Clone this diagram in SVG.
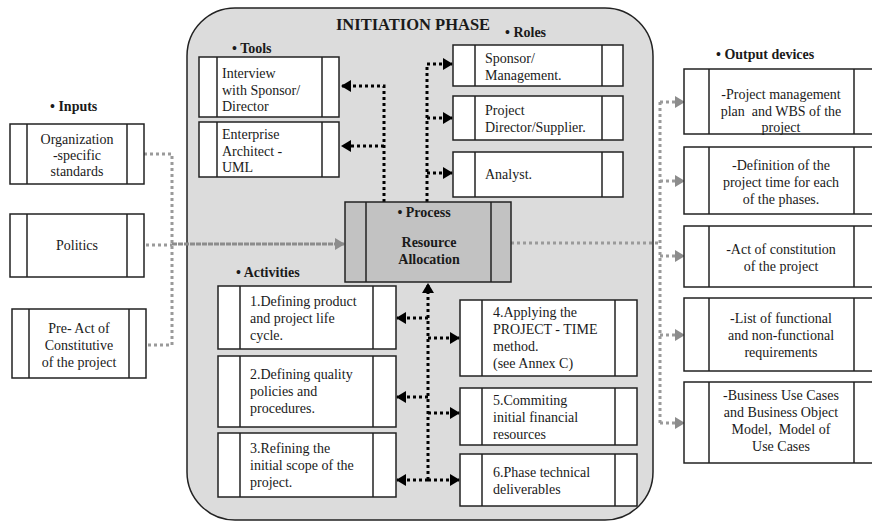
<svg xmlns="http://www.w3.org/2000/svg" width="872" height="522" viewBox="0 0 872 522" font-family="'Liberation Serif', 'DejaVu Serif', serif">
  <defs>
    <marker id="ahB" markerUnits="userSpaceOnUse" markerWidth="10" markerHeight="12" refX="9" refY="6" orient="auto">
      <path d="M0,0 L10,6 L0,12 Z" fill="#000"/>
    </marker>
    <marker id="ahG" markerUnits="userSpaceOnUse" markerWidth="10" markerHeight="12" refX="9" refY="6" orient="auto">
      <path d="M0,0 L10,6 L0,12 Z" fill="#8c8c8c"/>
    </marker>
  </defs>
  <style>
    text { font-family: 'Liberation Serif', 'DejaVu Serif', serif; font-size: 14px; fill: #1a1a1a; }
    .h { font-weight: bold; font-size: 14px; }
    .title { font-weight: bold; font-size: 16.5px; }
    .c { text-anchor: middle; }
    .box { fill: #fff; stroke: #222; stroke-width: 1.5; }
    .sep { stroke: #222; stroke-width: 1.5; }
    .proc { fill: #c2c2c2; stroke: #222; stroke-width: 1.5; }
    .dk { fill: none; stroke: #000; stroke-width: 3; stroke-dasharray: 3 3; }
    .gr { fill: none; stroke: #9a9a9a; stroke-width: 3; stroke-dasharray: 3 3; }
  </style>

  <rect width="872" height="522" fill="#fff"/>

  <!-- phase container -->
  <g id="phase">
    <rect x="187" y="8" width="466" height="512" rx="48" ry="48" fill="#dcdcdc" stroke="#222" stroke-width="1.5"/>
    <text class="title c" x="413" y="30">INITIATION PHASE</text>
  </g>

  <!-- section headings -->
  <g id="headings">
    <text class="h" x="50" y="111">• Inputs</text>
    <text class="h" x="232" y="53">• Tools</text>
    <text class="h" x="505" y="37">• Roles</text>
    <text class="h" x="236" y="277">• Activities</text>
    <text class="h" x="716" y="59">• Output devices</text>
  </g>

  <!-- connectors -->
  <g id="connectors">
    <!-- inputs to process -->
    <path class="gr" d="M144,154 H172 V345 H146"/>
    <path class="gr" d="M146,245 H172"/>
    <path d="M172,244 H344" fill="none" stroke="#8c8c8c" stroke-width="3" stroke-dasharray="5 1" marker-end="url(#ahG)"/>

    <!-- process to tools -->
    <path class="dk" d="M384,202 V86 H342" marker-end="url(#ahB)"/>
    <path class="dk" d="M384,146 H342" marker-end="url(#ahB)"/>

    <!-- process to roles -->
    <path class="dk" d="M427,202 V64 H452" marker-end="url(#ahB)"/>
    <path class="dk" d="M427,118 H452" marker-end="url(#ahB)"/>
    <path class="dk" d="M427,173 H452" marker-end="url(#ahB)"/>

    <!-- activities to process -->
    <path class="dk" d="M428,480 V284" marker-end="url(#ahB)"/>
    <path class="dk" d="M428,318 H397" marker-end="url(#ahB)"/>
    <path class="dk" d="M428,338 H459" marker-end="url(#ahB)"/>
    <path class="dk" d="M428,397 H397" marker-end="url(#ahB)"/>
    <path class="dk" d="M428,413 H459" marker-end="url(#ahB)"/>
    <path class="dk" d="M428,480 H397" marker-end="url(#ahB)"/>
    <path class="dk" d="M428,480 H459" marker-end="url(#ahB)"/>

    <!-- process to outputs -->
    <path class="gr" d="M511,243 H660"/>
    <path class="gr" d="M660,102 V423"/>
    <path class="gr" d="M660,102 H684" marker-end="url(#ahG)"/>
    <path class="gr" d="M660,181 H684" marker-end="url(#ahG)"/>
    <path class="gr" d="M660,256 H684" marker-end="url(#ahG)"/>
    <path class="gr" d="M660,335 H684" marker-end="url(#ahG)"/>
    <path class="gr" d="M660,423 H684" marker-end="url(#ahG)"/>
  </g>

  <!-- inputs -->
  <g id="in-standards">
    <rect class="box" x="10" y="124" width="134" height="60"/>
    <line class="sep" x1="27" y1="124" x2="27" y2="184"/>
    <line class="sep" x1="127" y1="124" x2="127" y2="184"/>
    <text class="c" x="77" y="144">Organization</text>
    <text class="c" x="77" y="160">-specific</text>
    <text class="c" x="77" y="176">standards</text>
  </g>
  <g id="in-politics">
    <rect class="box" x="10" y="214" width="134" height="63"/>
    <line class="sep" x1="27" y1="214" x2="27" y2="277"/>
    <line class="sep" x1="127" y1="214" x2="127" y2="277"/>
    <text class="c" x="77" y="250">Politics</text>
  </g>
  <g id="in-preact">
    <rect class="box" x="12" y="309" width="134" height="69"/>
    <line class="sep" x1="29" y1="309" x2="29" y2="378"/>
    <line class="sep" x1="129" y1="309" x2="129" y2="378"/>
    <text class="c" x="79" y="333">Pre- Act of</text>
    <text class="c" x="79" y="350">Constitutive</text>
    <text class="c" x="79" y="367">of the project</text>
  </g>

  <!-- tools -->
  <g id="tool-interview">
    <rect class="box" x="199" y="57" width="140" height="60"/>
    <line class="sep" x1="217" y1="57" x2="217" y2="117"/>
    <line class="sep" x1="322" y1="57" x2="322" y2="117"/>
    <text x="222" y="78">Interview</text>
    <text x="222" y="95">with Sponsor/</text>
    <text x="222" y="111">Director</text>
  </g>
  <g id="tool-ea">
    <rect class="box" x="199" y="122" width="140" height="55"/>
    <line class="sep" x1="217" y1="122" x2="217" y2="177"/>
    <line class="sep" x1="322" y1="122" x2="322" y2="177"/>
    <text x="222" y="139">Enterprise</text>
    <text x="222" y="156">Architect -</text>
    <text x="222" y="172">UML</text>
  </g>

  <!-- roles -->
  <g id="role-sponsor">
    <rect class="box" x="453" y="45" width="170" height="41"/>
    <line class="sep" x1="475" y1="45" x2="475" y2="86"/>
    <line class="sep" x1="602" y1="45" x2="602" y2="86"/>
    <text x="485" y="63">Sponsor/</text>
    <text x="485" y="80">Management.</text>
  </g>
  <g id="role-director">
    <rect class="box" x="453" y="96" width="170" height="44"/>
    <line class="sep" x1="475" y1="96" x2="475" y2="140"/>
    <line class="sep" x1="602" y1="96" x2="602" y2="140"/>
    <text x="485" y="115">Project</text>
    <text x="485" y="132">Director/Supplier.</text>
  </g>
  <g id="role-analyst">
    <rect class="box" x="453" y="152" width="170" height="45"/>
    <line class="sep" x1="475" y1="152" x2="475" y2="197"/>
    <line class="sep" x1="602" y1="152" x2="602" y2="197"/>
    <text x="485" y="179">Analyst.</text>
  </g>

  <!-- process -->
  <g id="process">
    <rect class="proc" x="345" y="202" width="166" height="80"/>
    <line class="sep" x1="366" y1="202" x2="366" y2="282"/>
    <line class="sep" x1="491" y1="202" x2="491" y2="282"/>
    <text class="h c" x="424" y="217">• Process</text>
    <text class="h c" x="429" y="247">Resource</text>
    <text class="h c" x="429" y="264">Allocation</text>
  </g>

  <!-- activities -->
  <g id="act-1">
    <rect class="box" x="218" y="286" width="178" height="63"/>
    <line class="sep" x1="240" y1="286" x2="240" y2="349"/>
    <line class="sep" x1="373" y1="286" x2="373" y2="349"/>
    <text x="250" y="306">1.Defining product</text>
    <text x="250" y="323">and project life</text>
    <text x="250" y="340">cycle.</text>
  </g>
  <g id="act-2">
    <rect class="box" x="218" y="356" width="178" height="71"/>
    <line class="sep" x1="240" y1="356" x2="240" y2="427"/>
    <line class="sep" x1="373" y1="356" x2="373" y2="427"/>
    <text x="250" y="379">2.Defining quality</text>
    <text x="250" y="396">policies and</text>
    <text x="250" y="413">procedures.</text>
  </g>
  <g id="act-3">
    <rect class="box" x="218" y="433" width="178" height="64"/>
    <line class="sep" x1="240" y1="433" x2="240" y2="497"/>
    <line class="sep" x1="373" y1="433" x2="373" y2="497"/>
    <text x="250" y="453">3.Refining the</text>
    <text x="250" y="470">initial scope of the</text>
    <text x="250" y="487">project.</text>
  </g>
  <g id="act-4">
    <rect class="box" x="460" y="300" width="177" height="76"/>
    <line class="sep" x1="482" y1="300" x2="482" y2="376"/>
    <line class="sep" x1="615" y1="300" x2="615" y2="376"/>
    <text x="493" y="317">4.Applying the</text>
    <text x="493" y="334">PROJECT - TIME</text>
    <text x="493" y="351">method.</text>
    <text x="493" y="368">(see Annex C)</text>
  </g>
  <g id="act-5">
    <rect class="box" x="460" y="388" width="177" height="57"/>
    <line class="sep" x1="482" y1="388" x2="482" y2="445"/>
    <line class="sep" x1="615" y1="388" x2="615" y2="445"/>
    <text x="493" y="405">5.Commiting</text>
    <text x="493" y="422">initial financial</text>
    <text x="493" y="439">resources</text>
  </g>
  <g id="act-6">
    <rect class="box" x="460" y="454" width="177" height="52"/>
    <line class="sep" x1="482" y1="454" x2="482" y2="506"/>
    <line class="sep" x1="615" y1="454" x2="615" y2="506"/>
    <text x="493" y="477">6.Phase technical</text>
    <text x="493" y="494">deliverables</text>
  </g>

  <!-- outputs -->
  <g id="out-plan">
    <rect class="box" x="684" y="69" width="190" height="65"/>
    <line class="sep" x1="709" y1="69" x2="709" y2="134"/>
    <line class="sep" x1="854" y1="69" x2="854" y2="134"/>
    <text class="c" x="781" y="99">-Project management</text>
    <text class="c" x="781" y="116">plan &#160;and WBS of the</text>
    <text class="c" x="781" y="132">project</text>
  </g>
  <g id="out-time">
    <rect class="box" x="684" y="147" width="190" height="67"/>
    <line class="sep" x1="709" y1="147" x2="709" y2="214"/>
    <line class="sep" x1="854" y1="147" x2="854" y2="214"/>
    <text class="c" x="781" y="170">-Definition of the</text>
    <text class="c" x="781" y="187">project time for each</text>
    <text class="c" x="781" y="204">of the phases.</text>
  </g>
  <g id="out-act">
    <rect class="box" x="684" y="226" width="190" height="61"/>
    <line class="sep" x1="709" y1="226" x2="709" y2="287"/>
    <line class="sep" x1="854" y1="226" x2="854" y2="287"/>
    <text class="c" x="781" y="254">-Act of constitution</text>
    <text class="c" x="781" y="271">of the project</text>
  </g>
  <g id="out-reqs">
    <rect class="box" x="684" y="298" width="190" height="73"/>
    <line class="sep" x1="709" y1="298" x2="709" y2="371"/>
    <line class="sep" x1="854" y1="298" x2="854" y2="371"/>
    <text class="c" x="781" y="323">-List of functional</text>
    <text class="c" x="781" y="340">and non-functional</text>
    <text class="c" x="781" y="357">requirements</text>
  </g>
  <g id="out-usecases">
    <rect class="box" x="684" y="382" width="190" height="81"/>
    <line class="sep" x1="709" y1="382" x2="709" y2="463"/>
    <line class="sep" x1="854" y1="382" x2="854" y2="463"/>
    <text class="c" x="781" y="400">-Business Use Cases</text>
    <text class="c" x="781" y="417">and Business Object</text>
    <text class="c" x="781" y="434">Model, &#160;Model of</text>
    <text class="c" x="781" y="451">Use Cases</text>
  </g>
</svg>
